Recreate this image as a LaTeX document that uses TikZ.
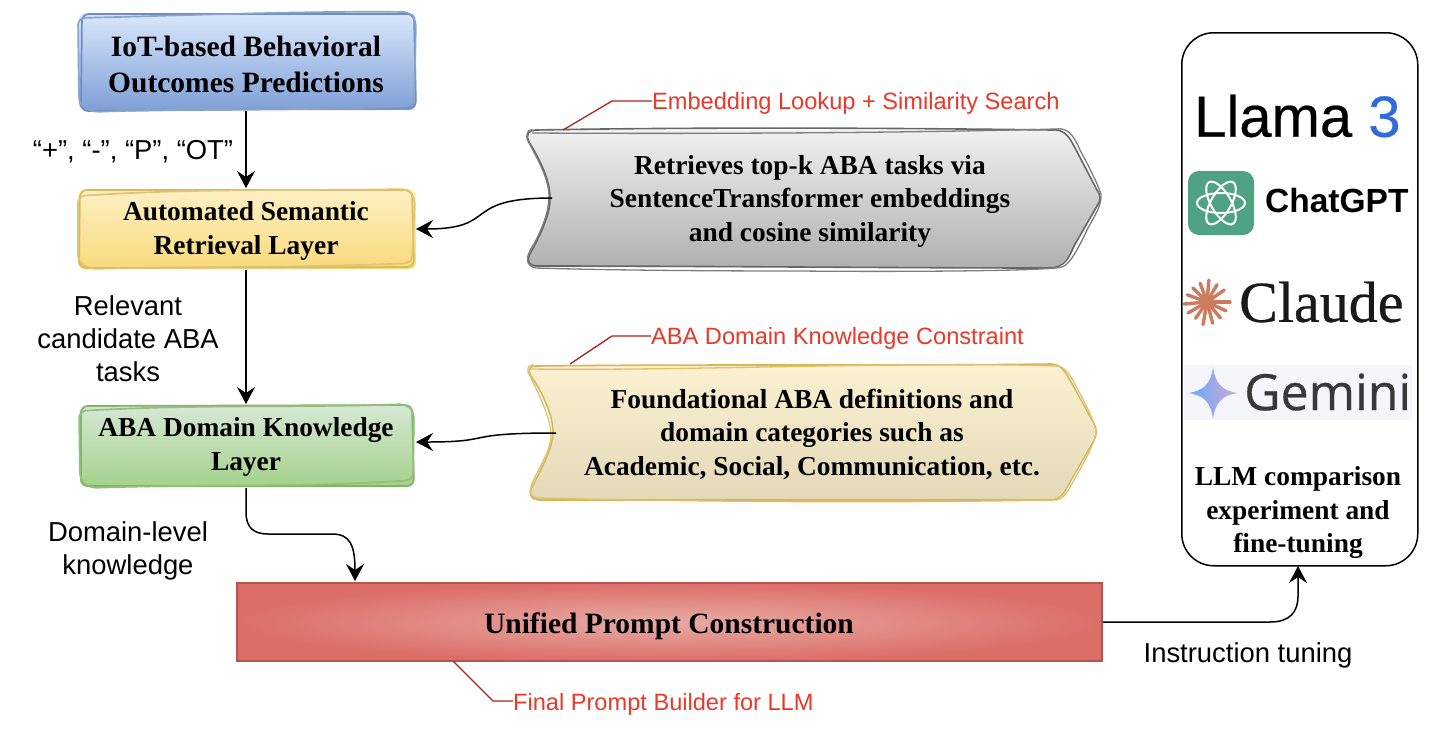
\documentclass[tikz,border=0pt]{standalone}
\usepackage{fontspec}
\setmainfont{Liberation Serif}
\newfontfamily\arial{Liberation Sans}
\newfontfamily\arialfat[FakeBold=0.4]{Liberation Sans}
\newfontfamily\serfat[FakeBold=0.5]{Liberation Serif}
\newfontfamily\gemfont[FakeBold=0.5]{Open Sans}
\usetikzlibrary{arrows.meta,calc}
\definecolor{redtxt}{HTML}{E8392B}
\definecolor{callout}{HTML}{A8261C}
\definecolor{blueline}{HTML}{6C8EBF}
\definecolor{yellowline}{HTML}{D9B95A}
\definecolor{greenline}{HTML}{82B366}
\definecolor{grayline}{HTML}{666666}
\definecolor{redline}{HTML}{B85450}
\definecolor{creamline}{HTML}{D6B656}
\definecolor{gptgreen}{HTML}{4FA283}
\definecolor{claudeor}{HTML}{CC7B5C}
\definecolor{llamablue}{HTML}{2F6BDB}
\definecolor{gembg}{HTML}{F4F6FC}
\definecolor{bluetop}{HTML}{DAE8FC}
\definecolor{bluebot}{HTML}{7F9FD6}
\definecolor{yeltop}{HTML}{FDF0C4}
\definecolor{yelbot}{HTML}{F9DA7C}
\definecolor{grntop}{HTML}{D5E8D4}
\definecolor{grnbot}{HTML}{A5D18B}
\definecolor{redin}{HTML}{E8ABA5}
\definecolor{redout}{HTML}{DC6E68}
\definecolor{crmtop}{HTML}{FBF0CF}
\definecolor{crmbot}{HTML}{E3D8B8}
\definecolor{grytop}{HTML}{F0F0F0}
\definecolor{grybot}{HTML}{B0B0B0}
\tikzset{
  x=1pt,y=-1pt,
  boxtext/.style={font=\fontsize{27.4}{33.5}\selectfont\bfseries,align=center,text=black},
  bigtext/.style={font=\fontsize{29.5}{36}\selectfont\bfseries,align=center,text=black},
  lbl/.style={font=\arial\fontsize{27.4}{33}\selectfont,align=center,text=black},
  redlbl/.style={font=\arial\fontsize{23.6}{27}\selectfont,text=redtxt,anchor=west,inner sep=0pt},
  conn/.style={draw=black,line width=1.5pt,-{Stealth[length=17pt,width=18pt,inset=6pt]}},
  calloutline/.style={draw=callout,line width=1.3pt},
  sketch/.style={line width=1.7pt,rounded corners=7pt},
}
\begin{document}
\begin{tikzpicture}
\useasboundingbox (0,0) rectangle (1434,732);
\fill[white] (0,0) rectangle (1434,732);

% Blue box
\shade[top color=bluetop,bottom color=bluebot,rounded corners=7pt] (79,13) rectangle (416,110);
\draw[sketch,blueline] (82,14) -- (414,14) -- (416,108) -- (81,111) -- cycle;
\draw[sketch,blueline!80] (78,18) .. controls (200,15) and (300,11) .. (410,12) -- (416,20) -- (414,106) .. controls (300,111) and (200,108) .. (92,112) -- (79,104) -- cycle;
\node[bigtext] (iot) at (246,64) {IoT-based Behavioral\\Outcomes Predictions};

% Yellow box
\shade[top color=yeltop,bottom color=yelbot,rounded corners=7pt] (78,189) rectangle (416,269);
\draw[sketch,yellowline] (80,190) -- (412,190) -- (414,267) -- (79,268) -- cycle;
\draw[sketch,yellowline!85] (78,196) .. controls (200,188) and (300,191) .. (408,189) -- (415,198) -- (412,263) .. controls (300,268) and (200,266) .. (90,269) -- (78,262) -- cycle;
\node[boxtext] (ret) at (246,231) {Automated Semantic\\Retrieval Layer};

% Green box
\shade[top color=grntop,bottom color=grnbot,rounded corners=7pt] (80,405) rectangle (414,487);
\draw[sketch,greenline] (81,406) -- (412,405) -- (414,486) -- (81,486) -- cycle;
\draw[sketch,greenline!85] (79,411) .. controls (200,404) and (300,408) .. (406,404) -- (414,412) -- (413,480) .. controls (300,488) and (200,484) .. (90,488) -- (80,480) -- cycle;
\node[boxtext] (dom) at (246,447) {ABA Domain Knowledge\\Layer};

% Red box
\shade[inner color=redin,outer color=redout] (237,583) rectangle (1102,661);
\draw[redline,line width=1.5pt] (237,583) rectangle (1102,661);
\node[bigtext] (uni) at (669,626) {Unified Prompt Construction};
\coordinate (unitop) at (355,581);
\coordinate (uniright) at (1103,622);

% Gray shape
\shade[top color=grytop,bottom color=grybot]
  (536,130) -- (1052,130) .. controls (1062,130) and (1068,134) .. (1074,146) -- (1097,190) .. controls (1101,196) and (1101,200) .. (1097,206) -- (1074,246) .. controls (1068,258) and (1062,267) .. (1050,267) -- (538,267) .. controls (528,267) and (526,260) .. (531,252) .. controls (544,228) and (550,212) .. (550,198) .. controls (550,180) and (540,160) .. (529,142) .. controls (525,134) and (529,130) .. (536,130) -- cycle;
\draw[grayline,line width=1.6pt]
  (536,130) .. controls (700,127) and (900,128) .. (1052,130) .. controls (1062,129) and (1068,134) .. (1074,146) -- (1097,190) .. controls (1101,196) and (1101,200) .. (1097,206) -- (1074,246) .. controls (1068,260) and (1064,267) .. (1050,268) .. controls (900,268) and (700,266) .. (538,266) .. controls (528,266) and (526,260) .. (531,252) .. controls (544,228) and (550,212) .. (550,198) .. controls (550,180) and (540,160) .. (529,142) .. controls (525,134) and (529,130) .. (536,130) -- cycle;
\draw[grayline!85,line width=1.3pt]
  (532,133) .. controls (700,134) and (900,133) .. (1056,129) .. controls (1068,127) and (1074,136) .. (1080,150) .. controls (1088,165) and (1096,180) .. (1101,194) .. controls (1102,205) and (1095,215) .. (1088,228) .. controls (1080,245) and (1070,265) .. (1062,267) .. controls (1050,271) and (900,272) .. (800,271) .. controls (700,271) and (600,270) .. (536,268) .. controls (526,266) and (524,258) .. (534,244) .. controls (544,225) and (549,210) .. (549,195) .. controls (548,175) and (535,155) .. (527,139) .. controls (526,131) and (530,128) .. (534,131);
\node[boxtext] (gray) at (810,201) {Retrieves top-k ABA tasks via\\SentenceTransformer embeddings\\and cosine similarity};
\coordinate (grayleft) at (552,198);

% Cream shape
\shade[top color=crmtop,bottom color=crmbot]
  (536,366) -- (1050,366) .. controls (1060,366) and (1064,372) .. (1070,382) -- (1092,424) .. controls (1096,430) and (1096,434) .. (1092,440) -- (1070,480) .. controls (1064,492) and (1060,499) .. (1048,499) -- (540,499) .. controls (530,499) and (528,493) .. (533,485) .. controls (546,460) and (554,445) .. (554,432) .. controls (554,415) and (542,392) .. (531,376) .. controls (527,369) and (530,366) .. (536,366) -- cycle;
\draw[creamline,line width=1.6pt]
  (536,366) .. controls (700,364) and (900,366) .. (1050,364) .. controls (1060,364) and (1064,370) .. (1070,380) -- (1094,424) .. controls (1097,430) and (1097,434) .. (1094,440) -- (1070,482) .. controls (1064,494) and (1060,500) .. (1048,500) .. controls (900,500) and (700,500) .. (540,500) .. controls (530,500) and (528,493) .. (533,485) .. controls (546,460) and (553,445) .. (553,432) .. controls (553,415) and (542,392) .. (531,376) .. controls (527,369) and (530,366) .. (536,366) -- cycle;
\draw[creamline!85,line width=1.3pt]
  (530,369) .. controls (700,371) and (900,361) .. (1056,366) .. controls (1066,366) and (1072,378) .. (1078,390) .. controls (1086,405) and (1094,420) .. (1096,432) .. controls (1094,445) and (1084,462) .. (1074,480) .. controls (1068,492) and (1062,501) .. (1054,500) .. controls (900,503) and (700,502) .. (538,498) .. controls (528,497) and (528,490) .. (536,475) .. controls (545,458) and (551,445) .. (551,437) .. controls (552,420) and (538,392) .. (528,372) .. controls (527,366) and (530,365) .. (534,365);
\node[boxtext] (cream) at (812,434) {Foundational ABA definitions and\\domain categories such as\\Academic, Social, Communication, etc.};
\coordinate (creamleft) at (556,433);

% LLM panel
\node[draw=black,line width=1.5pt,rounded corners=32pt,minimum width=236pt,minimum height=533pt,inner sep=0pt,anchor=north west] (llm) at (1181,32) {};
\node[boxtext] (llmtxt) at (1298,513) {LLM comparison\\experiment and\\fine-tuning};
\coordinate (llmbot) at (1298,566);

% Llama
\node[anchor=west,inner sep=0pt,font=\arialfat\fontsize{58}{58}\selectfont] (llama) at (1194,116) {Llama \textcolor{llamablue}{3}};

% ChatGPT logo
\fill[gptgreen,rounded corners=11pt] (1188,171) rectangle (1254,235);
\begin{scope}[shift={(1221,203)},white,line width=2pt]
  \foreach \a in {0,60,120}{
    \draw[rotate=\a] (0,0) ellipse (24pt and 10pt);
  }
\end{scope}
\node[anchor=west,inner sep=0pt,font=\arial\bfseries\fontsize{33.5}{33.5}\selectfont] (gpt) at (1265,201) {ChatGPT};

% Claude logo
\begin{scope}[shift={(1207,302)}]
  \foreach \a/\r in {0/23,25/21,50/21,75/22,100/23,125/20,150/22,175/23,200/21,225/20,250/20,275/22,300/20,325/21}{
    \draw[claudeor,line width=3.4pt,line cap=round] (0,0) -- (\a:\r);
  }
\end{scope}
\node[anchor=west,inner sep=0pt,font=\serfat\fontsize{58}{58}\selectfont,text=black!90] (claude) at (1239,302) {Claude};

% Gemini logo
\fill[gembg] (1184,365) rectangle (1412,420);
\shade[left color=blue!55!cyan!60!white,right color=violet!35!white]
  (1213,367) .. controls (1215,383) and (1222,391) .. (1238,393) .. controls (1222,395) and (1215,403) .. (1213,419) .. controls (1211,403) and (1204,395) .. (1188,393) .. controls (1204,391) and (1211,383) .. (1213,367) -- cycle;
\node[anchor=west,inner sep=0pt,font=\gemfont\fontsize{50}{50}\selectfont,text=black!78] (gemini) at (1244,392) {Gemini};

% Connectors
\draw[conn] (246,111) -- (246,188);
\draw[conn] (246,270) -- (246,404);
\draw[conn] (grayleft) .. controls (460,198) and (500,229) .. (416,229);
\draw[conn] (creamleft) .. controls (458,433) and (498,442) .. (416,442);
\draw[conn] (246,488) -- (246,512) .. controls (246,528) and (254,534) .. (268,534) -- (332,534) .. controls (350,534) and (355,545) .. (unitop);
\draw[conn] (uniright) -- (1270,622) .. controls (1290,622) and (1298,612) .. (1298,596) -- (llmbot);

% Callouts
\coordinate (c1a) at (563,130); \coordinate (c1b) at (612,101);
\coordinate (c2a) at (570,364); \coordinate (c2b) at (612,336);
\coordinate (c3a) at (453,661); \coordinate (c3b) at (493,701);
\node[redlbl] (r1) at (652,103) {Embedding Lookup + Similarity Search};
\node[redlbl] (r2) at (651,338) {ABA Domain Knowledge Constraint};
\node[redlbl] (r3) at (513,704) {Final Prompt Builder for LLM};
\draw[calloutline] (c1a) -- (c1b) -- (r1.west |- c1b);
\draw[calloutline] (c2a) -- (c2b) -- (r2.west |- c2b);
\draw[calloutline] (c3a) -- (c3b) -- (r3.west |- c3b);

% Labels
\node[lbl] (l1) at (133,152) {“+”, “-”, “P”, “OT”};
\node[lbl] (l2) at (128,339) {Relevant\\candidate ABA\\tasks};
\node[lbl] (l3) at (128,551) {Domain-level\\knowledge};
\node[lbl] (l4) at (1248,655) {Instruction tuning};
\end{tikzpicture}
\end{document}
